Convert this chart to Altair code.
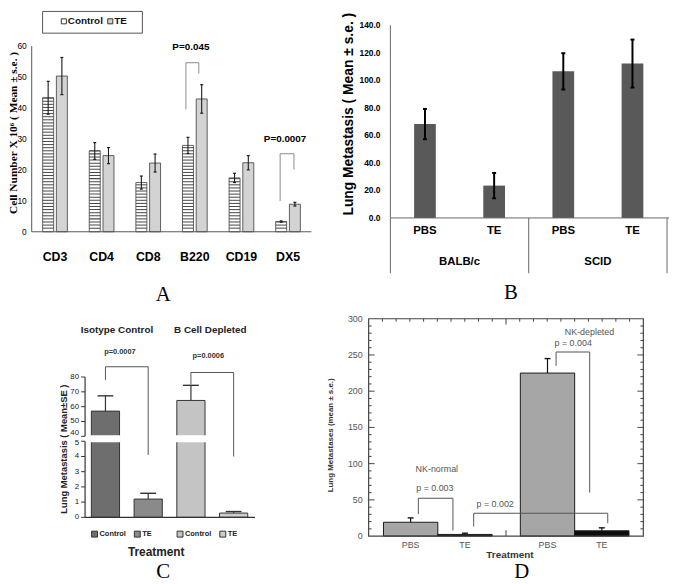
import altair as alt
import pandas as pd

# ---------------- data ----------------
A_CATS = ["CD3", "CD4", "CD8", "B220", "CD19", "DX5"]
A_SERIES = ["Control", "TE"]
A_CONTROL = [43.3, 26.1, 15.9, 27.9, 17.4, 3.3]
A_CONTROL_SE = [5.3, 2.7, 2.1, 2.6, 1.5, 0.2]
A_TE = [50.3, 24.6, 22.2, 42.9, 22.3, 8.9]
A_TE_SE = [6.0, 2.6, 2.9, 4.6, 2.3, 0.6]
A_YTICKS = [0, 10, 20, 30, 40, 50, 60]
A_PVALS = ["P=0.045", "P=0.0007"]
A_PCATS = ["B220", "DX5"]
A_YTITLE = "Cell Number X 10⁶ ( Mean ± s.e. )"

B_GROUPS = ["BALB/c", "SCID"]
B_GROUP_OF = ["BALB/c", "BALB/c", "SCID", "SCID"]
B_TREAT = ["PBS", "TE", "PBS", "TE"]
B_VALUES = [68.2, 23.5, 106.5, 112.2]
B_SE = [11.0, 9.2, 13.2, 17.4]
B_YTICKS = [0, 20, 40, 60, 80, 100, 120, 140]
B_YTITLE = "Lung Metastasis ( Mean ± s.e. )"

C_GROUPS = ["Isotype Control", "B Cell Depleted"]
C_GROUP_OF = ["Isotype Control", "Isotype Control", "B Cell Depleted", "B Cell Depleted"]
C_TREAT = ["Control", "TE", "Control", "TE"]
C_VALUES = [57.0, 1.2, 64.2, 0.28]
C_SE = [10.3, 0.38, 10.2, 0.1]
C_YTICKS_LOW = [0, 1, 2, 3, 4, 5]
C_YTICKS_HIGH = [40, 50, 60, 70, 80]
C_PVALS = ["p=0.0007", "p=0.0006"]
C_YTITLE = "Lung Metastasis ( Mean±SE )"
C_XTITLE = "Treatment"

D_GROUPS = ["NK-normal", "NK-depleted"]
D_GROUP_OF = ["NK-normal", "NK-normal", "NK-depleted", "NK-depleted"]
D_TREAT = ["PBS", "TE", "PBS", "TE"]
D_VALUES = [19.1, 2.3, 225.0, 7.3]
D_SE = [6.0, 1.7, 20.0, 4.1]
D_YTICKS = [0, 50, 100, 150, 200, 250, 300]
D_PVALS = ["p = 0.003", "p = 0.002", "p = 0.004"]
D_YTITLE = "Lung Metastases (mean ± s.e.)"
D_XTITLE = "Treatment"

PANEL_LETTERS = ["A", "B", "C", "D"]

# ---------------- layout helpers ----------------
W, H = 671, 576


def P(v):
    """page pixel -> chart pixel (page has an 8px margin)"""
    return v - 8


SANS = "Liberation Sans, Arial, sans-serif"
SERIF = "Liberation Serif, Times New Roman, serif"


def band_centers(r0, r1, n):
    step = (r1 - r0) / n
    return [r0 + step * (i + 0.5) for i in range(n)]


layers = []


def L(c):
    layers.append(c)


def text_layer(df, x, y, size, font=SANS, weight="normal", color="#000", dx=0, dy=0,
               angle=0, align="center", baseline="middle", field="label:N"):
    mk = dict(font=font, fontSize=size, fontWeight=weight, color=color, dx=dx, dy=dy,
              align=align, baseline=baseline, opacity=1)
    if angle:
        mk["angle"] = angle
    return alt.Chart(df).mark_text(**mk).encode(x=x, y=y, text=field)


def one(label, **cols):
    d = {"label": [label]}
    for k, v in cols.items():
        d[k] = [v]
    return pd.DataFrame(d)


def bracket(xscale, yscale, centers, lcat, ldx, rcat, rdx, top, lbot, rbot, color, width):
    d = pd.DataFrame({"l": [lcat], "r": [rcat], "top": [top], "lb": [lbot], "rb": [rbot]})
    out = []
    out.append(alt.Chart(d).mark_rule(color=color, strokeWidth=width, xOffset=ldx, opacity=1).encode(
        x=alt.X("l:N", scale=xscale, axis=None),
        y=alt.Y("lb:Q", scale=yscale, axis=None), y2="top:Q"))
    out.append(alt.Chart(d).mark_rule(color=color, strokeWidth=width, xOffset=rdx, opacity=1).encode(
        x=alt.X("r:N", scale=xscale, axis=None),
        y=alt.Y("rb:Q", scale=yscale, axis=None), y2="top:Q"))
    xl = centers[lcat] + ldx
    xr = centers[rcat] + rdx
    out.append(alt.Chart(d).mark_tick(orient="horizontal", size=xr - xl, thickness=width, color=color,
                                      xOffset=(xl + xr) / 2 - centers[lcat], opacity=1).encode(
        x=alt.X("l:N", scale=xscale, axis=None),
        y=alt.Y("top:Q", scale=yscale, axis=None)))
    return out


# ================= Panel A =================
dfA = pd.DataFrame({
    "cat": A_CATS * 2,
    "series": ["Control"] * len(A_CATS) + ["TE"] * len(A_CATS),
    "value": A_CONTROL + A_TE,
    "se": A_CONTROL_SE + A_TE_SE,
})
dfA["lo"] = dfA["value"] - dfA["se"]
dfA["hi"] = dfA["value"] + dfA["se"]

A_X0, A_X1 = P(32), P(315)
ax = alt.Scale(domain=A_CATS, range=[A_X0, A_X1], paddingInner=0.47, paddingOuter=0.235)
A_BW = (A_X1 - A_X0) / len(A_CATS) * (1 - 0.47)
aoff = alt.Scale(domain=A_SERIES, range=[0, A_BW], paddingInner=0.2, paddingOuter=0)
ay = alt.Scale(domain=[0, 60], range=[P(231), P(43)], zero=False, nice=False)
a_centers = dict(zip(A_CATS, band_centers(A_X0, A_X1, len(A_CATS))))
afill = alt.Scale(domain=A_SERIES, range=["#ffffff", "#d3d3d3"])

XA = alt.X("cat:N", scale=ax, axis=None)
OA = alt.XOffset("series:N", scale=aoff)

L(alt.Chart(dfA).mark_bar(stroke="#3a3a3a", strokeWidth=0.8, opacity=1).encode(
    x=XA, xOffset=OA,
    y=alt.Y("value:Q", scale=ay, axis=None, stack=None),
    fill=alt.Fill("series:N", scale=afill, legend=None),
))
# horizontal-line hatching of the Control bars
L(alt.Chart(dfA).transform_filter("datum.series == 'Control'").transform_calculate(
    stripe="sequence(1, datum.value, 1)").transform_flatten(["stripe"]).transform_calculate(
    stripe2="datum.stripe + 0.33").mark_bar(color="#4a4a4a", opacity=1).encode(
    x=XA, xOffset=OA,
    y=alt.Y("stripe:Q", scale=ay, axis=None, stack=None), y2="stripe2:Q"))
# error bars
L(alt.Chart(dfA).mark_rule(color="#1a1a1a", strokeWidth=1.1, opacity=1).encode(
    x=XA, xOffset=OA, y=alt.Y("lo:Q", scale=ay, axis=None), y2="hi:Q"))
L(alt.Chart(dfA).transform_fold(["lo", "hi"], as_=["end", "endval"]).mark_tick(
    orient="horizontal", size=3, thickness=1.2, color="#1a1a1a", opacity=1).encode(
    x=XA, xOffset=OA, y=alt.Y("endval:Q", scale=ay, axis=None)))
# legend box for panel A (series keys laid out on their own band scale)
dfAleg = pd.DataFrame({"series": A_SERIES})
aleg = alt.Scale(domain=A_SERIES, range=[P(52), P(146)], paddingInner=0, paddingOuter=0)
L(alt.Chart(one("frame")).mark_rect(fill="#ffffff", stroke="#555", strokeWidth=1).encode(
    x=alt.value(P(43)), x2=alt.value(P(144)), y=alt.value(0), y2=alt.value(P(30))))
L(alt.Chart(dfAleg).mark_square(size=26, stroke="#333", strokeWidth=1, xOffset=-11, opacity=1).encode(
    x=alt.X("series:N", scale=aleg, axis=None), y=alt.value(P(18)),
    fill=alt.Fill("series:N", scale=afill, legend=None)))
L(text_layer(dfAleg, alt.X("series:N", scale=aleg, axis=None), alt.value(P(18)), 10, font=SANS,
             weight="bold", color="#111", dx=-7, align="left", field="series:N"))
# axes
dfAax = pd.DataFrame({"lo": [0], "hi": [60]})
L(alt.Chart(dfAax).mark_rule(color="#555", strokeWidth=1).encode(
    x=alt.value(A_X0), y=alt.Y("lo:Q", scale=ay, axis=None), y2="hi:Q"))
L(alt.Chart(dfAax).mark_rule(color="#555", strokeWidth=1).encode(
    x=alt.value(A_X0), x2=alt.value(A_X1), y=alt.Y("lo:Q", scale=ay, axis=None)))
L(text_layer(pd.DataFrame({"t": A_YTICKS}), alt.value(P(27)), alt.Y("t:Q", scale=ay, axis=None),
             8.5, font=SANS, align="right", field="t:Q"))
L(text_layer(pd.DataFrame({"cat": A_CATS}), XA, alt.value(P(257)), 12.5, font=SANS, weight="bold",
             field="cat:N"))
L(text_layer(one(A_YTITLE), alt.value(P(14)), alt.value(P(131)), 11.5, font=SERIF, weight="bold",
             angle=270))
# significance brackets
A_BR = [("B220", -9, 4, 54.6, 39.6, 51.1), ("DX5", -8, 6, 25.2, 9.9, 20.1)]
for cat, ldx, rdx, top, lb, rb in A_BR:
    for c in bracket(ax, ay, a_centers, cat, ldx, cat, rdx, top, lb, rb, "#8a8a8a", 1):
        L(c)
A_PTXT = [(-4, 59.6), (-3, 30.0)]
for lab, cat, (dx, yv) in zip(A_PVALS, A_PCATS, A_PTXT):
    L(text_layer(one(lab, anchor=cat, yv=yv), alt.X("anchor:N", scale=ax, axis=None),
                 alt.Y("yv:Q", scale=ay, axis=None), 10, font=SANS, weight="bold", dx=dx))

# ================= Panel B =================
B_KEYS = [f"{g} {t}" for g, t in zip(B_GROUP_OF, B_TREAT)]
dfB = pd.DataFrame({"key": B_KEYS, "group": B_GROUP_OF, "treat": B_TREAT,
                    "value": B_VALUES, "se": B_SE})
dfB["lo"] = dfB["value"] - dfB["se"]
dfB["hi"] = dfB["value"] + dfB["se"]
B_X0, B_X1 = P(395), P(675)
bx = alt.Scale(domain=B_KEYS, range=[B_X0, B_X1], paddingInner=0.686, paddingOuter=0.343)
bg = alt.Scale(domain=B_GROUPS, range=[B_X0, B_X1], paddingInner=0, paddingOuter=0)
by = alt.Scale(domain=[0, 140], range=[P(217), P(22)], zero=False, nice=False)
XB = alt.X("key:N", scale=bx, axis=None)

L(alt.Chart(dfB).mark_bar(color="#595959", opacity=1).encode(
    x=XB, y=alt.Y("value:Q", scale=by, axis=None, stack=None)))
L(alt.Chart(dfB).mark_rule(color="#000", strokeWidth=2, opacity=1).encode(
    x=XB, y=alt.Y("lo:Q", scale=by, axis=None), y2="hi:Q"))
L(alt.Chart(dfB).transform_fold(["lo", "hi"], as_=["end", "endval"]).mark_tick(
    orient="horizontal", size=4, thickness=2, color="#000", opacity=1).encode(
    x=XB, y=alt.Y("endval:Q", scale=by, axis=None)))
dfBax = pd.DataFrame({"lo": [0], "hi": [140]})
L(alt.Chart(dfBax).mark_rule(color="#666", strokeWidth=1).encode(
    x=alt.value(B_X0), y=alt.Y("lo:Q", scale=by, axis=None), y2="hi:Q"))
L(alt.Chart(dfBax).mark_rule(color="#666", strokeWidth=1).encode(
    x=alt.value(B_X0), x2=alt.value(P(677)), y=alt.Y("lo:Q", scale=by, axis=None)))
dfBg = pd.DataFrame({"group": B_GROUPS})
L(alt.Chart(dfBg).mark_rule(color="#666", strokeWidth=1).encode(
    x=alt.X("group:N", scale=bg, axis=None, bandPosition=0), y=alt.value(P(217)), y2=alt.value(P(273))))
L(alt.Chart(dfBg.tail(1)).mark_rule(color="#666", strokeWidth=1).encode(
    x=alt.X("group:N", scale=bg, axis=None, bandPosition=1), y=alt.value(P(217)), y2=alt.value(P(273))))
L(text_layer(pd.DataFrame({"t": B_YTICKS}), alt.value(P(385)), alt.Y("t:Q", scale=by, axis=None),
             8.5, font=SANS, weight="bold", align="right", field=alt.Text("t:Q", format=".1f")))
L(text_layer(dfB, XB, alt.value(P(230)), 11.5, font=SANS, weight="bold", field="treat:N"))
L(text_layer(dfBg, alt.X("group:N", scale=bg, axis=None), alt.value(P(262)), 11.5, font=SANS,
             weight="bold", field="group:N"))
L(text_layer(one(B_YTITLE), alt.value(P(353)), alt.value(P(112)), 14, font=SANS, weight="bold",
             angle=270))

# ================= Panel C =================
C_KEYS = [f"{g} {t}" for g, t in zip(C_GROUP_OF, C_TREAT)]
dfC = pd.DataFrame({"key": C_KEYS, "group": C_GROUP_OF, "treat": C_TREAT,
                    "value": C_VALUES, "se": C_SE})
dfC["hi"] = dfC["value"] + dfC["se"]
C_X0, C_X1 = P(85), P(258)
cx = alt.Scale(domain=C_KEYS, range=[C_X0, C_X1], paddingInner=0.34, paddingOuter=0.17)
cg = alt.Scale(domain=C_GROUPS, range=[C_X0, C_X1], paddingInner=0, paddingOuter=0)
# broken axis: 0-5 on the lower part, 40-80 on the upper part
cy = alt.Scale(domain=[0, 5, 40, 80], range=[P(520), P(443), P(438), P(378)],
               zero=False, nice=False)
cfill = alt.Scale(domain=C_KEYS, range=["#6e6e6e", "#8a8a8a", "#c4c4c4", "#cdcdcd"])
c_centers = dict(zip(C_KEYS, band_centers(C_X0, C_X1, len(C_KEYS))))
XC = alt.X("key:N", scale=cx, axis=None)

L(alt.Chart(dfC).mark_bar(stroke="#333", strokeWidth=1, opacity=1).encode(
    x=XC, y=alt.Y("value:Q", scale=cy, axis=None, stack=None),
    fill=alt.Fill("key:N", scale=cfill, legend=None)))
# axis-break gap through the tall bars
dfCbreak = dfC[dfC["value"] > 40].assign(b0=5, b1=40)
L(alt.Chart(dfCbreak).mark_bar(color="#ffffff", stroke="#ffffff", strokeWidth=2, opacity=1).encode(
    x=XC, y=alt.Y("b0:Q", scale=cy, axis=None, stack=None), y2="b1:Q"))
L(alt.Chart(dfC).mark_rule(color="#333", strokeWidth=1.2, opacity=1).encode(
    x=XC, y=alt.Y("value:Q", scale=cy, axis=None), y2="hi:Q"))
L(alt.Chart(dfC).mark_tick(orient="horizontal", size=16, thickness=1.4, color="#333", opacity=1).encode(
    x=XC, y=alt.Y("hi:Q", scale=cy, axis=None)))
dfCax = pd.DataFrame({"lo": [0, 40], "hi": [5, 80]})
L(alt.Chart(dfCax).mark_rule(color="#333", strokeWidth=1.2).encode(
    x=alt.value(P(86)), y=alt.Y("lo:Q", scale=cy, axis=None), y2="hi:Q"))
L(alt.Chart(dfCax.head(1)).mark_rule(color="#333", strokeWidth=1.2).encode(
    x=alt.value(P(86)), x2=alt.value(C_X1), y=alt.Y("lo:Q", scale=cy, axis=None)))
dfCt = pd.DataFrame({"t": C_YTICKS_LOW + C_YTICKS_HIGH})
L(alt.Chart(dfCt).mark_rule(color="#333", strokeWidth=1).encode(
    x=alt.value(P(82)), x2=alt.value(P(86)), y=alt.Y("t:Q", scale=cy, axis=None)))
# the two labels on either side of the break are nudged apart slightly
for vals, dy in ((C_YTICKS_LOW[:-1], 0), (C_YTICKS_LOW[-1:], 2), (C_YTICKS_HIGH[:1], -3),
                 (C_YTICKS_HIGH[1:], 0)):
    L(text_layer(pd.DataFrame({"t": vals}), alt.value(P(80)), alt.Y("t:Q", scale=cy, axis=None), 8,
                 font=SANS, color="#222", align="right", dy=dy, field="t:Q"))
# legend-style keys under the bars
L(alt.Chart(dfC).mark_square(size=36, stroke="#333", strokeWidth=1, xOffset=-11, opacity=1).encode(
    x=XC, y=alt.value(P(537)), fill=alt.Fill("key:N", scale=cfill, legend=None)))
L(text_layer(dfC, XC, alt.value(P(537)), 7.5, font=SANS, weight="bold", color="#222", dx=-6,
             align="left", field="treat:N"))
L(text_layer(one(C_XTITLE), alt.value(P(158)), alt.value(P(555)), 12, font=SANS, weight="bold",
             color="#222"))
L(text_layer(one(C_YTITLE), alt.value(P(65)), alt.value(P(451)), 9.5, font=SANS, weight="bold",
             color="#222", angle=270))
C_TITLE_DX = [-10, -2]
for grp, dx in zip(C_GROUPS, C_TITLE_DX):
    L(text_layer(one(grp, anchor=grp), alt.X("anchor:N", scale=cg, axis=None), alt.value(P(330)),
                 10, font=SANS, weight="bold", color="#222", dx=dx))
C_BR = [(C_KEYS[0], C_KEYS[1], 86.9, 78.0, 4.1), (C_KEYS[2], C_KEYS[3], 83.1, 74.9, 4.0)]
for lk, rk, top, lb, rb in C_BR:
    for c in bracket(cx, cy, c_centers, lk, 0, rk, 0, top, lb, rb, "#555", 1):
        L(c)
C_PTXT = [(-7, 96.7), (-4, 94.0)]
for lab, grp, (dx, yv) in zip(C_PVALS, C_GROUPS, C_PTXT):
    L(text_layer(one(lab, anchor=grp, yv=yv), alt.X("anchor:N", scale=cg, axis=None),
                 alt.Y("yv:Q", scale=cy, axis=None), 7.5, font=SANS, weight="bold", color="#333",
                 dx=dx))

# ================= Panel D =================
dfD = pd.DataFrame({"group": D_GROUP_OF, "treat": D_TREAT, "value": D_VALUES, "se": D_SE})
dfD["hi"] = dfD["value"] + dfD["se"]
D_X0, D_X1 = P(373.75), P(650.75)
dg = alt.Scale(domain=D_GROUPS, range=[D_X0, D_X1], paddingInner=0.206, paddingOuter=0.103)
D_BW = (D_X1 - D_X0) / 2 * (1 - 0.206)
doff = alt.Scale(domain=["PBS", "TE"], range=[0, D_BW], paddingInner=0, paddingOuter=0)
dy = alt.Scale(domain=[0, 300], range=[P(539), P(319)], zero=False, nice=False)
dframe = alt.Scale(domain=[0, 20], range=[P(373), P(651)], zero=False, nice=False)
d_centers = dict(zip(D_GROUPS, band_centers(D_X0, D_X1, 2)))
XD = alt.X("group:N", scale=dg, axis=None)
OD = alt.XOffset("treat:N", scale=doff)

L(alt.Chart(dfD).mark_bar(stroke="#1a1a1a", strokeWidth=1, opacity=1).encode(
    x=XD, xOffset=OD, y=alt.Y("value:Q", scale=dy, axis=None, stack=None),
    fill=alt.Fill("treat:N", scale=alt.Scale(domain=["PBS", "TE"], range=["#a6a6a6", "#0d0d0d"]),
                  legend=None)))
L(alt.Chart(dfD).mark_rule(color="#111", strokeWidth=1.2, opacity=1).encode(
    x=XD, xOffset=OD, y=alt.Y("value:Q", scale=dy, axis=None), y2="hi:Q"))
L(alt.Chart(dfD).mark_tick(orient="horizontal", size=6, thickness=1.4, color="#111", opacity=1).encode(
    x=XD, xOffset=OD, y=alt.Y("hi:Q", scale=dy, axis=None)))
# frame
dfDf = pd.DataFrame({"lo": [0], "hi": [300]})
L(alt.Chart(dfDf).mark_rect(fillOpacity=0, stroke="#444", strokeWidth=1.2).encode(
    x=alt.value(P(373)), x2=alt.value(P(651)), y=alt.Y("lo:Q", scale=dy, axis=None), y2="hi:Q"))
D_MAJOR = D_YTICKS[1:-1]
D_MINOR = [v for v in range(10, 300, 10) if v not in D_YTICKS]
for vals, ln in ((D_MAJOR, 6), (D_MINOR, 3)):
    dft = pd.DataFrame({"t": vals})
    L(alt.Chart(dft).mark_rule(color="#444", strokeWidth=1).encode(
        x=alt.value(P(373)), x2=alt.value(P(373 + ln)), y=alt.Y("t:Q", scale=dy, axis=None)))
    L(alt.Chart(dft).mark_rule(color="#444", strokeWidth=1).encode(
        x=alt.value(P(651 - ln)), x2=alt.value(P(651)), y=alt.Y("t:Q", scale=dy, axis=None)))
D_TOP_MINOR = [u for u in range(1, 20) if u != 10]
dftm = pd.DataFrame({"u": D_TOP_MINOR})
L(alt.Chart(dftm).mark_rule(color="#444", strokeWidth=1).encode(
    x=alt.X("u:Q", scale=dframe, axis=None), y=alt.value(P(319)), y2=alt.value(P(322))))
dftM = pd.DataFrame({"u": [10]})
L(alt.Chart(dftM).mark_rule(color="#444", strokeWidth=1).encode(
    x=alt.X("u:Q", scale=dframe, axis=None), y=alt.value(P(319)), y2=alt.value(P(325))))
L(alt.Chart(dftM).mark_rule(color="#444", strokeWidth=1).encode(
    x=alt.X("u:Q", scale=dframe, axis=None), y=alt.value(P(533)), y2=alt.value(P(539))))
L(text_layer(pd.DataFrame({"t": D_YTICKS}), alt.value(P(367)), alt.Y("t:Q", scale=dy, axis=None),
             9, font=SANS, color="#555", align="right", field="t:Q"))
# treatment labels under each bar (half a bar either side of the group centre)
for tr, dx in (("PBS", -D_BW / 4), ("TE", D_BW / 4)):
    L(text_layer(dfD[dfD["treat"] == tr], XD, alt.value(P(548)), 9, font=SANS, color="#555", dx=dx,
                 field="treat:N"))
L(text_layer(one(D_XTITLE), alt.value(P(516)), alt.value(P(558)), 10, font=SANS, weight="bold",
             color="#333"))
L(text_layer(one(D_YTITLE), alt.value(P(335)), alt.value(P(437)), 8, font=SANS, weight="bold",
             color="#333", angle=270))
D_BR = [("NK-normal", -19.7, "NK-normal", 15.3, 52.2, 30.4, 7.8),
        ("NK-normal", 36.3, "NK-depleted", 33.5, 31.4, 13.2, 17.7),
        ("NK-depleted", -18.8, "NK-depleted", 15.2, 254.0, 235.0, 60.0)]
for lg, ldx, rg, rdx, top, lb, rb in D_BR:
    for c in bracket(dg, dy, d_centers, lg, ldx, rg, rdx, top, lb, rb, "#555", 1):
        L(c)
D_NOTES = [(D_GROUPS[0], "NK-normal", -1, 92.0), (D_PVALS[0], "NK-normal", -3, 67.0),
           (D_PVALS[1], "NK-normal", 58, 44.0), (D_GROUPS[1], "NK-depleted", 15, 281.0),
           (D_PVALS[2], "NK-depleted", -1.5, 267.0)]
for lab, grp, dx, yv in D_NOTES:
    L(text_layer(one(lab, anchor=grp, yv=yv), alt.X("anchor:N", scale=dg, axis=None),
                 alt.Y("yv:Q", scale=dy, axis=None), 9, font=SANS, color="#555", dx=dx))

# ================= panel letters =================
LETTER_POS = [(165, 295), (517, 293), (165, 575), (528, 575)]
for lab, (px, py) in zip(PANEL_LETTERS, LETTER_POS):
    L(text_layer(one(lab), alt.value(P(px)), alt.value(P(py)), 21, font=SERIF))

chart = alt.layer(*layers).resolve_scale(
    x="independent", y="independent", xOffset="independent", fill="independent", color="independent"
).properties(
    width=W, height=H, padding=0, autosize=alt.AutoSizeParams(type="none"), background="white"
).configure_view(stroke=None)

chart.save("out.html", embed_options={"renderer": "svg", "actions": False})
